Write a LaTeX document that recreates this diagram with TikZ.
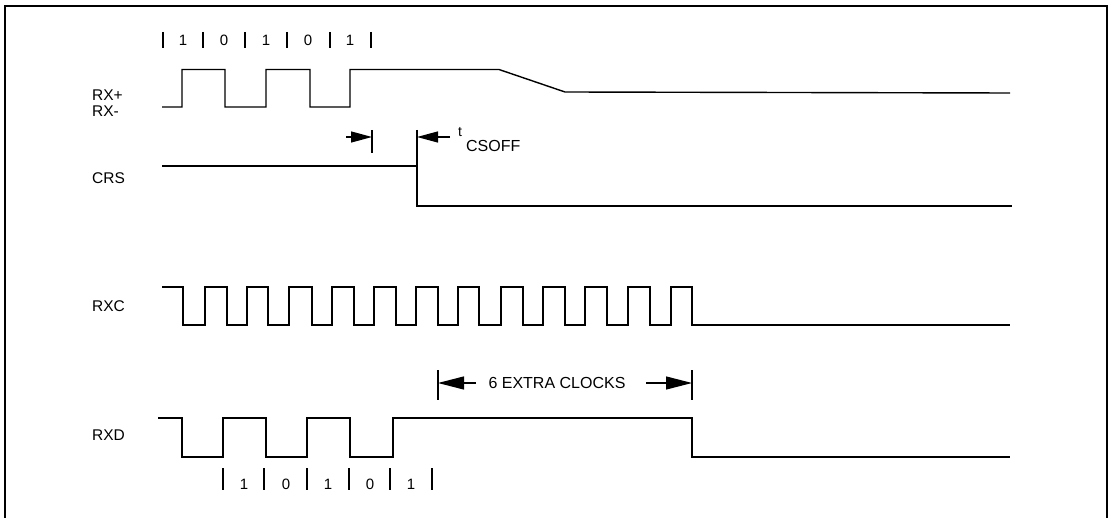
\documentclass[tikz,border=0pt]{standalone}
\usepackage{fontspec}
\setmainfont{Liberation Sans}
\usetikzlibrary{arrows.meta}
\begin{document}
\begin{tikzpicture}[x=1pt,y=-1pt,
  sig/.style={line width=1.4pt},
  frameline/.style={line width=2pt},
  tickline/.style={line width=1.1pt},
  lbl/.style={font=\fontsize{15.5}{17}\selectfont, inner sep=0pt, anchor=west},
  bitlbl/.style={font=\fontsize{15}{17}\selectfont, inner sep=0pt, anchor=base},
  dimarrow/.style={line width=1.2pt, -{Triangle[length=21pt,width=11pt]}},
  bigarrow/.style={line width=1.2pt, -{Triangle[length=26pt,width=13pt]}}]
\useasboundingbox (0,0) rectangle (1110,518);
% frame
\draw[frameline] (5,518) -- (5,6) -- (1107,6) -- (1107,518);
% signal labels
\node[lbl] (lrxp) at (92,95) {RX+};
\node[lbl] (lrxm) at (92,111) {RX-};
\node[lbl] (lcrs) at (92,178) {CRS};
\node[lbl] (lrxc) at (92,306) {RXC};
\node[lbl] (lrxd) at (92,435) {RXD};
% RX+/RX-
\draw[sig] (162,107) -| (182,69.5) -| (225,107) -| (266,69.5) -| (310,107) -| (350,69.5)
  -- (499,69.5) -- (565,92) -- (1010,93);
% RX bit ticks
\foreach \x in {163,203,245,287,330,371} \draw[tickline] (\x,32) -- (\x,48);
\node[bitlbl] (b1) at (183,46) {1};
\node[bitlbl] (b2) at (224,46) {0};
\node[bitlbl] (b3) at (266,46) {1};
\node[bitlbl] (b4) at (308,46) {0};
\node[bitlbl] (b5) at (350,46) {1};
% CRS
\draw[sig] (162,166) -- (417,166) -- (417,206) -- (1012,206);
% tCSOFF
\coordinate (ta) at (346,137);
\coordinate (tb) at (372,137);
\coordinate (tc) at (450,137);
\coordinate (td) at (417,137);
\draw[tickline] (372,130) -- (372,153);
\draw[tickline] (417,130) -- (417,166);
\draw[dimarrow] (ta) -- (tb);
\draw[dimarrow] (tc) -- (td);
\node[anchor=base west, inner sep=0pt] (tcs) at (458,137)
  {\fontsize{14}{15}\selectfont t\hspace{4pt}\raisebox{-15pt}{\fontsize{16}{18}\selectfont CSOFF}};
% RXC
\draw[sig] (162,287) -| (183,325) -| (205,287) -| (227,325) -| (247,287) -| (268,325)
  -| (289,287) -| (312,325) -| (332,287) -| (354,325) -| (374,287) -| (396,325)
  -| (416,287) -| (438,325) -| (458,287) -| (479,325) -| (501,287) -| (523,325)
  -| (543,287) -| (565,325) -| (585,287) -| (607,325) -| (628,287) -| (650,325)
  -| (671,287) -| (692,325) -- (1010,325);
% 6 extra clocks
\coordinate (ea) at (476,383);
\coordinate (eb) at (438,383);
\coordinate (ec) at (646,383);
\coordinate (ed) at (692,383);
\draw[tickline] (438,370) -- (438,400);
\draw[tickline] (692,370) -- (692,400);
\draw[bigarrow] (ea) -- (eb);
\draw[bigarrow] (ec) -- (ed);
\node[inner sep=0pt, font=\fontsize{16}{18}\selectfont] (extra) at (557,383) {6 EXTRA CLOCKS};
% RXD
\draw[sig] (158,418) -| (182,457) -| (223,418) -| (266,457) -| (307,418) -| (350,457)
  -| (393,418) -| (692,457) -- (1010,457);
\foreach \x in {223,264,307,349,390,432} \draw[tickline] (\x,468) -- (\x,490);
\node[bitlbl] (d1) at (244,489) {1};
\node[bitlbl] (d2) at (286,489) {0};
\node[bitlbl] (d3) at (328,489) {1};
\node[bitlbl] (d4) at (370,489) {0};
\node[bitlbl] (d5) at (411,489) {1};
\end{tikzpicture}
\end{document}
